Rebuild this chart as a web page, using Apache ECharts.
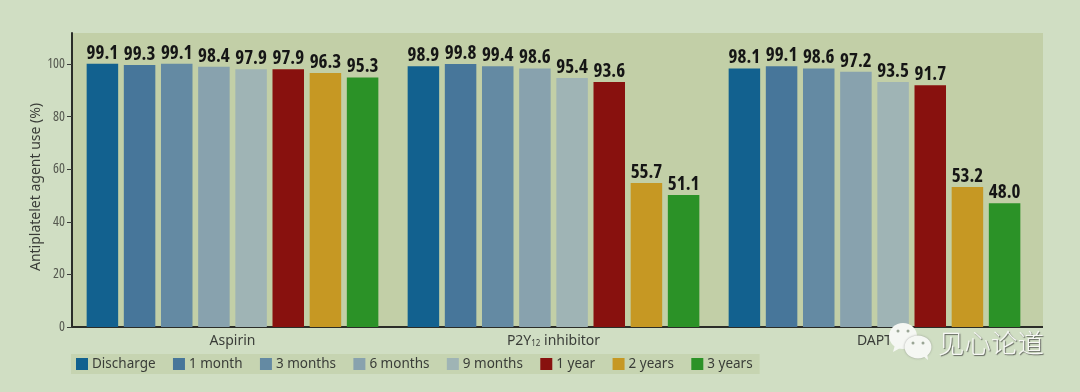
<!DOCTYPE html>
<html><head><meta charset="utf-8">
<style>html,body{margin:0;padding:0;background:#d0dec3}#c{width:1080px;height:392px}</style>
<script src="https://cdn.jsdelivr.net/npm/echarts@6/dist/echarts.min.js"></script>
</head><body><div id="c"></div>
<script>
const categories = ['Aspirin', 'P2Y12 inhibitor', 'DAPT'];
const seriesNames = ['Discharge', '1 month', '3 months', '6 months', '9 months', '1 year', '2 years', '3 years'];
const colors = ['#12618f', '#47769a', '#648aa3', '#88a2ae', '#9fb4b5', '#88110e', '#c69823', '#2b9227'];
// Bar heights as drawn in the picture (they differ slightly from the printed labels)
const discharge = [100.1, 99.2, 98.3];
const month1 = [99.6, 100.0, 99.2];
const months3 = [100.1, 99.2, 98.3];
const months6 = [99.0, 98.3, 97.1];
const months9 = [98.0, 94.7, 93.2];
const year1 = [98.0, 93.2, 91.9];
const years2 = [96.6, 54.8, 53.2];
const years3 = [94.9, 50.2, 47.1];
// Printed value labels
const dischargeL = ['99.1', '98.9', '98.1'];
const month1L = ['99.3', '99.8', '99.1'];
const months3L = ['99.1', '99.4', '98.6'];
const months6L = ['98.4', '98.6', '97.2'];
const months9L = ['97.9', '95.4', '93.5'];
const year1L = ['97.9', '93.6', '91.7'];
const years2L = ['96.3', '55.7', '53.2'];
const years3L = ['95.3', '51.1', '48.0'];
const yTicks = [0, 20, 40, 60, 80, 100];

const values = [discharge, month1, months3, months6, months9, year1, years2, years3];
const labels = [dischargeL, month1L, months3L, months6L, months9L, year1L, years2L, years3L];
const chart = echarts.init(document.getElementById('c'), null, {renderer: 'canvas'});
const sans = '"Noto Sans", sans-serif';
const narrow = '"Open Sans", sans-serif';
const bubble = '#f5f7f3', eye = '#9aa595', zTop = 100;
chart.setOption({
  animation: false,
  backgroundColor: '#d0dec3',
  grid: {left: 72, top: 33, width: 963, height: 294, containLabel: false},
  legend: {
    left: 71, top: 354, padding: [3, 7, 3, 5], backgroundColor: '#c6d4b1',
    itemWidth: 12, itemHeight: 12, itemGap: 17.4, icon: 'rect',
    data: seriesNames,
    textStyle: {fontFamily: sans, fontSize: 13.5, color: '#3a3d38', padding: [0, 0, 0, -1]}
  },
  xAxis: {
    type: 'category', data: categories,
    axisTick: {show: false},
    axisLine: {lineStyle: {color: '#2b2d28', width: 2}},
    axisLabel: {
      margin: 7, fontFamily: sans, fontSize: 14, color: '#3a3d38',
      formatter: v => v.replace('P2Y12', 'P2Y{sub|12}'),
      rich: {sub: {fontFamily: sans, fontSize: 8, color: '#3a3d38', verticalAlign: 'bottom', padding: [6, 0, 0, 0]}}
    }
  },
  yAxis: {
    type: 'value', min: 0, max: 111.8,
    name: 'Antiplatelet agent use (%)', nameLocation: 'middle', nameGap: 29, nameRotate: 90, nameMoveOverlap: false,
    nameTextStyle: {fontFamily: sans, fontSize: 14, color: '#3a3d38', padding: [0, 14, 0, 0]},
    splitLine: {show: false},
    axisLine: {show: true, lineStyle: {color: '#2b2d28', width: 2}},
    axisTick: {show: true, length: 5, customValues: yTicks, lineStyle: {color: '#3a3d38'}},
    axisLabel: {margin: 7, customValues: yTicks, fontFamily: narrow, fontWeight: 'normal condensed', fontSize: 14, color: '#55584f'}
  },
  series: seriesNames.map((n, i) => ({
    name: n, type: 'bar', data: values[i], barWidth: 31.5, barGap: '18%',
    itemStyle: {color: colors[i]},
    label: {
      show: true, position: 'top', distance: 1,
      formatter: p => labels[i][p.dataIndex],
      fontFamily: narrow,
      fontWeight: 'bold condensed', fontSize: 19, color: '#151515'
    }
  })),
  graphic: [
    {type: 'rect', z: -1, silent: true, shape: {x: 72, y: 33, width: 971, height: 294}, style: {fill: '#c2cfa7'}},
    {type: 'line', z: 10, silent: true, shape: {x1: 1035, y1: 327, x2: 1043, y2: 327}, style: {stroke: '#2b2d28', lineWidth: 2}},
    {type: 'ellipse', z: zTop, silent: true, shape: {cx: 903, cy: 336, rx: 14, ry: 13}, style: {fill: bubble}},
    {type: 'polygon', z: zTop, silent: true, shape: {points: [[895, 345], [893, 352], [902, 347]]}, style: {fill: bubble}},
    {type: 'circle', z: zTop, silent: true, shape: {cx: 898, cy: 331, r: 1.5}, style: {fill: eye}},
    {type: 'circle', z: zTop, silent: true, shape: {cx: 908, cy: 331, r: 1.5}, style: {fill: eye}},
    {type: 'ellipse', z: zTop + 1, silent: true, shape: {cx: 918, cy: 347, rx: 13.5, ry: 11.5}, style: {fill: bubble, shadowColor: 'rgba(80,80,80,.5)', shadowBlur: 2}},
    {type: 'polygon', z: zTop + 1, silent: true, shape: {points: [[923, 356], [928, 360], [927, 353]]}, style: {fill: bubble}},
    {type: 'circle', z: zTop + 2, silent: true, shape: {cx: 913, cy: 343, r: 1.5}, style: {fill: eye}},
    {type: 'circle', z: zTop + 2, silent: true, shape: {cx: 923, cy: 343, r: 1.5}, style: {fill: eye}},
    {type: 'text', z: zTop, silent: true, x: 938, y: 330, style: {
      text: '见心论道', fill: '#f7f8f5', fontFamily: '"Noto Sans CJK SC"', fontSize: 26.5, fontWeight: 300,
      textShadowColor: 'rgba(60,60,60,.75)', textShadowBlur: 1, textShadowOffsetX: 1, textShadowOffsetY: 1
    }}
  ]
});
</script></body></html>
